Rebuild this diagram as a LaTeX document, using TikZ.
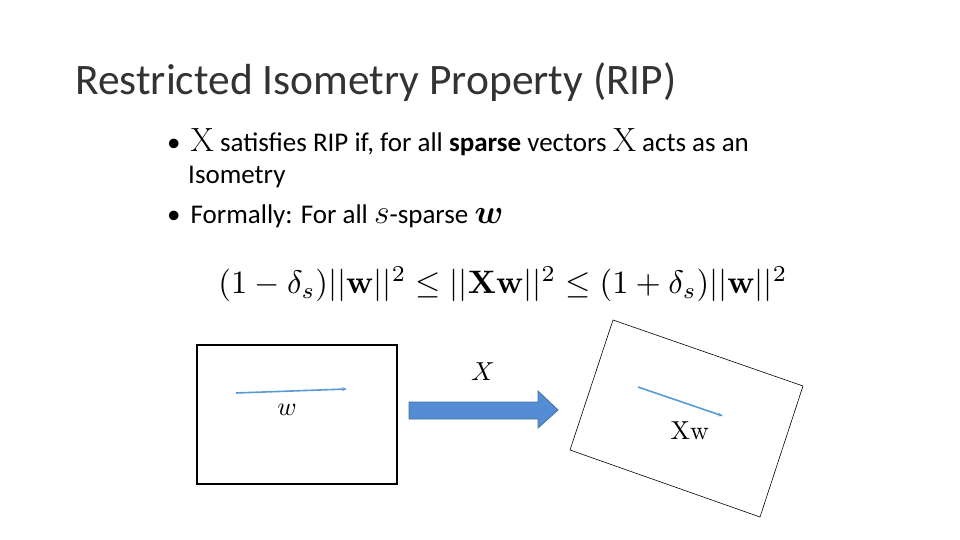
\documentclass[tikz,border=0pt]{standalone}
\usepackage{amsmath}
\usepackage{bm}
\usepackage{graphicx}
\usepackage[no-math]{fontspec}
\setmainfont{Carlito}
\usetikzlibrary{arrows.meta}
\definecolor{vec}{RGB}{91,155,213}
\definecolor{barrow}{RGB}{84,141,212}
\definecolor{barrowd}{RGB}{65,113,156}
\tikzset{vecline/.style={vec,line width=1.6pt,-{Stealth[length=5pt,width=4pt]}},
 txt/.style={inner sep=0pt,anchor=base west}}
\begin{document}
\begin{tikzpicture}[x=1pt,y=-1pt]
\useasboundingbox (0,0) rectangle (960,540);
\node[txt,font=\fontsize{43.5}{48}\selectfont,text=black!80] (title) at (75,95) {Restricted Isometry Property (RIP)};
\node[txt,font=\fontsize{27}{30}\selectfont] (b1) at (167,152) {•\hspace{10pt}\scalebox{1.35}{$\mathrm{X}$} satisfies RIP if, for all \textbf{sparse} vectors \scalebox{1.35}{$\mathrm{X}$} acts as an};
\node[txt,font=\fontsize{27}{30}\selectfont] (b1b) at (188,183) {Isometry};
\node[txt,font=\fontsize{27}{30}\selectfont] (b2) at (167,223) {•\hspace{10pt}Formally: For all \scalebox{1.35}{$s$}-sparse \scalebox{1.35}{$\bm{w}$}};
\node[inner sep=0pt] (eq) at (503,284) {\resizebox{569pt}{!}{$(1-\delta_s)||\mathbf{w}||^2 \leq ||\mathbf{Xw}||^2 \leq (1+\delta_s)||\mathbf{w}||^2$}};
\draw[line width=1.3pt] (197,345) rectangle (397,484);
\coordinate (w1) at (236,393); \coordinate (w2) at (347,389);
\draw[vecline] (w1) -- (w2);
\node (wl) at (287,410) {\scalebox{2.6}{$w$}};
\draw[fill=barrow,draw=barrowd,line width=0.8pt] (409,402) -- (538,402) -- (538,391) -- (558,410) -- (538,428) -- (538,419) -- (409,419) -- cycle;
\coordinate (ba) at (483,410);
\node (xl) at (483,372) {\scalebox{2.6}{$X$}};
\draw[line width=0.6pt] (613,320) -- (803,386) -- (760,517) -- (570,450) -- cycle;
\coordinate (v1) at (638,387); \coordinate (v2) at (723,416);
\draw[vecline] (v1) -- (v2);
\node (xw) at (690,431) {\scalebox{2.6}{$\mathrm{Xw}$}};
\end{tikzpicture}
\end{document}
